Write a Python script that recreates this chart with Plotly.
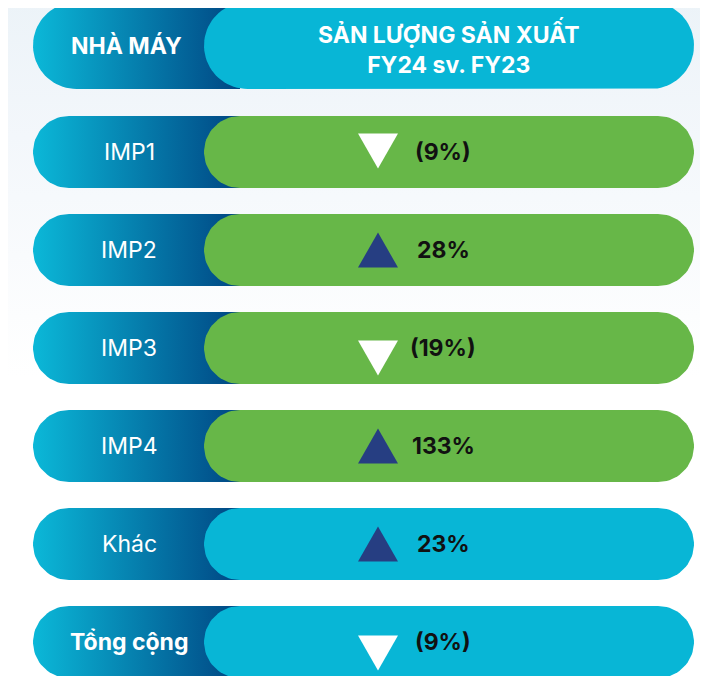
import numpy as np
import plotly.graph_objects as go

# ---- data ----
plants = ["IMP1", "IMP2", "IMP3", "IMP4", "Khác", "Tổng cộng"]
change_pct = [-9, 28, -19, 133, 23, -9]
row_group = ["plant", "plant", "plant", "plant", "other", "total"]
header_left = "NHÀ MÁY"
header_right = ["SẢN LƯỢNG SẢN XUẤT", "FY24 sv. FY23"]

# ---- style ----
W, H = 708, 676
OFF = 8  # page body margin in the browser
GREEN = "#67b748"
CYAN = "#08b6d6"
NAVY = "#263e82"
GRAD = [[0, "#0bb8d8"], [1, "#004683"]]
FONT = "Inter"
tri_dy = [-1, 0, 10, 0, 0, 11]  # small visual nudges of the triangles

LEFT_X0, LEFT_X1 = 33, 240
RIGHT_X0, RIGHT_X1 = 204, 694
ROW_Y0, ROW_STEP, ROW_H = 152, 98, 72
HEAD_CY, HEAD_H = 45.5, 87
LABEL_X, TRI_X, PCT_X = 129, 378, 443


def pill(x0, x1, cy, h, round_left=True, round_right=True, n=40):
    r = h / 2
    xs, ys = [], []
    if round_left:
        t = np.linspace(np.pi / 2, 3 * np.pi / 2, n)
        xs += list(x0 + r + r * np.cos(t))
        ys += list(cy - r * np.sin(t))
    else:
        xs += [x0, x0]
        ys += [cy - r, cy + r]
    if round_right:
        t = np.linspace(-np.pi / 2, np.pi / 2, n)
        xs += list(x1 - r + r * np.cos(t))
        ys += list(cy - r * np.sin(t))
    else:
        xs += [x1, x1]
        ys += [cy + r, cy - r]
    xs.append(xs[0])
    ys.append(ys[0])
    return xs, ys


fig = go.Figure()

# subtle background tint
fig.add_trace(go.Scatter(
    x=[0, W + OFF, W + OFF, 0, 0], y=[0, 0, H + OFF, H + OFF, 0], mode="lines", line=dict(width=0),
    fill="toself",
    fillgradient=dict(type="vertical", colorscale=[[0, "#ffffff"], [0.45, "#ffffff"], [0.8, "#f3f7fb"], [1, "#ecf3f8"]]),
    hoverinfo="skip", showlegend=False))


def add_row(cy, h, right_color):
    xs, ys = pill(LEFT_X0, LEFT_X1, cy, h, round_left=True, round_right=False)
    fig.add_trace(go.Scatter(x=xs, y=ys, mode="lines", line=dict(width=0),
                             fill="toself", fillgradient=dict(type="horizontal", colorscale=GRAD),
                             hoverinfo="skip", showlegend=False))
    xs, ys = pill(RIGHT_X0, RIGHT_X1, cy, h)
    fig.add_trace(go.Scatter(x=xs, y=ys, mode="lines", line=dict(width=0),
                             fill="toself", fillcolor=right_color,
                             hoverinfo="skip", showlegend=False))


# header
add_row(HEAD_CY, HEAD_H, CYAN)
fig.add_annotation(x=LABEL_X - 3, y=HEAD_CY, text="<b>" + header_left + "</b>", showarrow=False,
                   font=dict(family=FONT, size=23, color="white"), xanchor="center", yanchor="middle")
fig.add_annotation(x=(RIGHT_X0 + RIGHT_X1) / 2, y=HEAD_CY + 2,
                   text="<b>" + header_right[0] + "</b><br><b>" + header_right[1] + "</b>",
                   showarrow=False, font=dict(family=FONT, size=23, color="white"),
                   xanchor="center", yanchor="middle", align="center")

tw, th = 40, 35
for i, (name, val, grp) in enumerate(zip(plants, change_pct, row_group)):
    cy = ROW_Y0 + i * ROW_STEP
    add_row(cy, ROW_H, GREEN if grp == "plant" else CYAN)
    label = f"<b>{name}</b>" if grp == "total" else name
    fig.add_annotation(x=LABEL_X, y=cy, text=label, showarrow=False,
                       font=dict(family=FONT, size=23, color="white"),
                       xanchor="center", yanchor="middle")
    ty = cy + tri_dy[i]
    if val >= 0:
        txs = [TRI_X, TRI_X + tw / 2, TRI_X - tw / 2, TRI_X]
        tys = [ty - th / 2, ty + th / 2, ty + th / 2, ty - th / 2]
        tcol = NAVY
        txt = f"{val}%"
    else:
        txs = [TRI_X - tw / 2, TRI_X + tw / 2, TRI_X, TRI_X - tw / 2]
        tys = [ty - th / 2, ty - th / 2, ty + th / 2, ty - th / 2]
        tcol = "white"
        txt = f"({abs(val)}%)"
    fig.add_trace(go.Scatter(x=txs, y=tys, mode="lines", line=dict(width=0),
                             fill="toself", fillcolor=tcol, hoverinfo="skip", showlegend=False))
    fig.add_annotation(x=PCT_X, y=cy, text=f"<b>{txt}</b>", showarrow=False,
                       font=dict(family=FONT, size=23, color="#111111"),
                       xanchor="center", yanchor="middle")

fig.update_layout(
    width=W, height=H, margin=dict(l=0, r=0, t=0, b=0),
    paper_bgcolor="white", plot_bgcolor="white", showlegend=False,
    xaxis=dict(range=[OFF, W + OFF], visible=False, fixedrange=True),
    yaxis=dict(range=[H + OFF, OFF], visible=False, fixedrange=True),
)
fig.write_html("out.html")
